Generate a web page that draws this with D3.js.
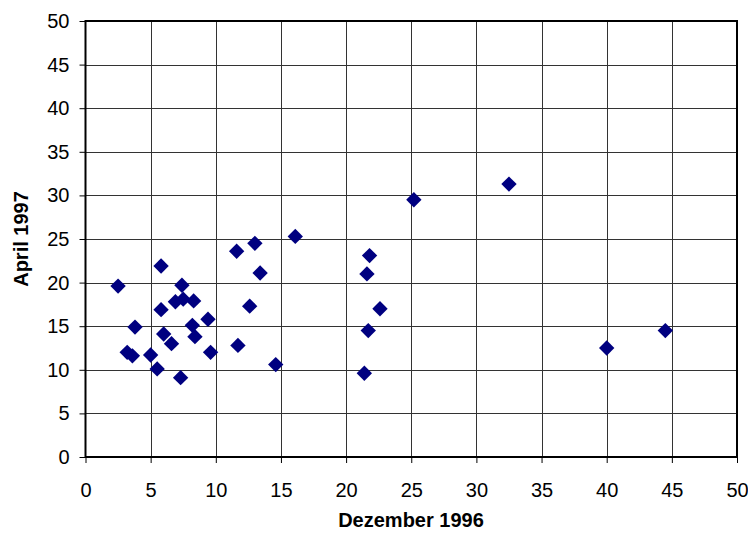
<!DOCTYPE html>
<html><head><meta charset="utf-8">
<script src="https://cdn.jsdelivr.net/npm/d3@7"></script>
<style>body{margin:0;background:#fff}svg{display:block}text{font-family:"Liberation Sans",Arial,sans-serif}</style>
</head><body>
<script>
const xVals=[2.5,3.2,3.6,3.8,5.0,5.5,5.8,5.8,6.0,6.6,6.9,7.3,7.4,7.5,8.3,8.2,8.4,9.4,9.6,11.6,11.7,12.6,13.0,13.4,14.6,16.1,21.4,21.6,21.7,21.8,22.6,25.2,32.5,40.0,44.5];
const yVals=[19.6,12.0,11.6,14.9,11.7,10.1,21.9,16.9,14.1,13.0,17.8,9.1,19.7,18.1,17.9,15.1,13.8,15.8,12.0,23.6,12.8,17.3,24.5,21.1,10.6,25.3,9.6,21.0,14.5,23.1,17.0,29.5,31.3,12.5,14.5];
const xTicks=[0,5,10,15,20,25,30,35,40,45,50];
const yTicks=[0,5,10,15,20,25,30,35,40,45,50];
const xTitle="Dezember 1996", yTitle="April 1997";

const W=748,H=533;
const svg=d3.select("body").append("svg").attr("width",W).attr("height",H);
const x=d3.scaleLinear().domain([0,50]).range([85.5,737]);
const y=d3.scaleLinear().domain([0,50]).range([457,21]);

const g=svg.append("g");
g.selectAll("line.vx").data(xTicks.slice(1,-1)).join("line")
 .attr("x1",d=>Math.round(x(d))+0.5).attr("x2",d=>Math.round(x(d))+0.5)
 .attr("y1",y(50)).attr("y2",y(0)).attr("stroke","#333").attr("stroke-width",1);
g.selectAll("line.hy").data(yTicks.slice(1,-1)).join("line")
 .attr("y1",d=>Math.round(y(d))+0.5).attr("y2",d=>Math.round(y(d))+0.5)
 .attr("x1",x(0)).attr("x2",x(50)).attr("stroke","#333").attr("stroke-width",1);

const xAxis=d3.axisBottom(x).tickValues(xTicks).tickSize(6).tickPadding(20);
const yAxis=d3.axisLeft(y).tickValues(yTicks).tickSize(6).tickPadding(10);
const gx=svg.append("g").attr("transform",`translate(0,${y(0)})`).call(xAxis);
const gy=svg.append("g").attr("transform",`translate(${x(0)},0)`).call(yAxis);
[gx,gy].forEach(a=>{a.select(".domain").remove();a.selectAll("text").attr("font-size",20).attr("fill","#000").attr("font-family","Liberation Sans, Arial, sans-serif");a.selectAll(".tick line").attr("stroke","#000");});

svg.append("rect").attr("x",x(0)).attr("y",y(50)).attr("width",x(50)-x(0)).attr("height",y(0)-y(50))
 .attr("fill","none").attr("stroke","#000").attr("stroke-width",2);

const sym=d3.symbol().type(d3.symbolSquare).size(118);
svg.append("g").selectAll("path").data(xVals.map((v,i)=>[v,yVals[i]])).join("path")
 .attr("d",sym).attr("transform",d=>`translate(${x(d[0])},${y(d[1])}) rotate(45)`)
 .attr("fill","#000080");

svg.append("text").attr("x",411).attr("y",527).attr("text-anchor","middle")
 .attr("font-size",20).attr("font-weight","bold").text(xTitle);
svg.append("text").attr("transform",`translate(28,239) rotate(-90)`).attr("text-anchor","middle")
 .attr("font-size",20).attr("font-weight","bold").text(yTitle);
</script>
</body></html>
